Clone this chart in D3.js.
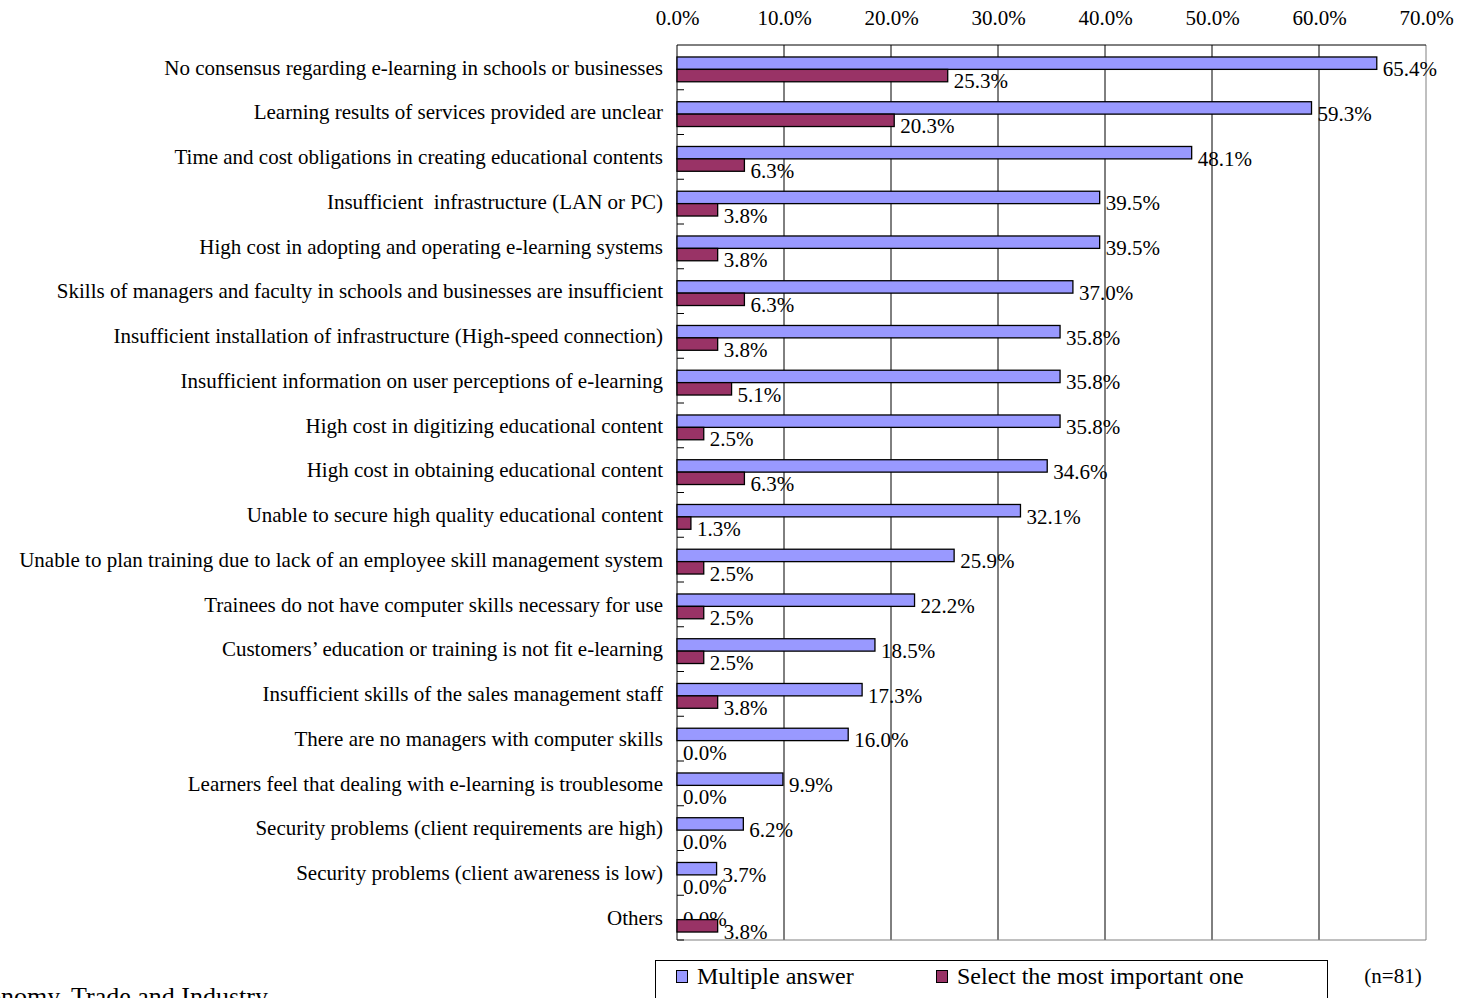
<!DOCTYPE html>
<html><head><meta charset="utf-8">
<script src="https://cdn.jsdelivr.net/npm/d3@7"></script>
<style>body{margin:0;background:#fff;overflow:hidden}text{font-family:"Liberation Serif","Times New Roman",serif}</style>
</head><body>
<svg id="c" width="1463" height="998"></svg>
<script>
const categories = [
"No consensus regarding e-learning in schools or businesses",
"Learning results of services provided are unclear",
"Time and cost obligations in creating educational contents",
"Insufficient  infrastructure (LAN or PC)",
"High cost in adopting and operating e-learning systems",
"Skills of managers and faculty in schools and businesses are insufficient",
"Insufficient installation of infrastructure (High-speed connection)",
"Insufficient information on user perceptions of e-learning",
"High cost in digitizing educational content",
"High cost in obtaining educational content",
"Unable to secure high quality educational content",
"Unable to plan training due to lack of an employee skill management system",
"Trainees do not have computer skills necessary for use",
"Customers\u2019 education or training is not fit e-learning",
"Insufficient skills of the sales management staff",
"There are no managers with computer skills",
"Learners feel that dealing with e-learning is troublesome",
"Security problems (client requirements are high)",
"Security problems (client awareness is low)",
"Others"];
const multipleAnswer = [65.4,59.3,48.1,39.5,39.5,37.0,35.8,35.8,35.8,34.6,32.1,25.9,22.2,18.5,17.3,16.0,9.9,6.2,3.7,0.0];
const mostImportant = [25.3,20.3,6.3,3.8,3.8,6.3,3.8,5.1,2.5,6.3,1.3,2.5,2.5,2.5,3.8,0.0,0.0,0.0,0.0,3.8];
const seriesNames = ["Multiple answer","Select the most important one"];
const tickValues = [0,10,20,30,40,50,60,70];
const note = "(n=81)";
const source = "Source: Ministry of Economy, Trade and Industry";

const colors = ["#9999FF","#993366"];
const svg = d3.select("#c");
const L=677, R=1426, T=45, B=940;
const x = d3.scaleLinear().domain([0,70]).range([L,R]);
const y = d3.scaleBand().domain(d3.range(categories.length)).range([T,B]);
const bh = 12.4;
const fs = 21;

// gridlines
svg.append("g").selectAll("line").data(tickValues.slice(1)).join("line")
  .attr("x1",d=>x(d)).attr("x2",d=>x(d)).attr("y1",T).attr("y2",B)
  .attr("stroke",d=>d===70?"#808080":"#000").attr("stroke-width",1);
svg.append("line").attr("x1",L).attr("x2",R).attr("y1",T).attr("y2",T).attr("stroke","#000");
svg.append("line").attr("x1",L).attr("x2",R).attr("y1",B).attr("y2",B).attr("stroke","#808080");

// top axis labels
const ax = d3.axisTop(x).tickValues(tickValues).tickFormat(d=>d.toFixed(1)+"%").tickSize(0).tickPadding(0);
const axg = svg.append("g").attr("transform",`translate(0,25)`).call(ax);
axg.select(".domain").remove();
axg.selectAll("text").attr("font-size",fs).attr("fill","#000").attr("font-family","Liberation Serif");

// left axis with inward ticks at boundaries
svg.append("line").attr("x1",L).attr("x2",L).attr("y1",T).attr("y2",B).attr("stroke","#000");
svg.append("g").selectAll("line").data(d3.range(1,categories.length+1)).join("line")
  .attr("x1",L).attr("x2",L+7).attr("y1",i=>y(i-1)+y.bandwidth()).attr("y2",i=>y(i-1)+y.bandwidth()).attr("stroke","#000");

// category labels
svg.append("g").selectAll("text").data(categories).join("text")
  .attr("x",L-14).attr("y",(d,i)=>y(i)+y.bandwidth()/2).attr("dy","0.35em")
  .attr("text-anchor","end").attr("font-size",fs).attr("xml:space","preserve").style("white-space","pre").text(d=>d);

const series=[multipleAnswer,mostImportant];
series.forEach((vals,s)=>{
  const off = y.bandwidth()/2 - bh + s*bh + 2;
  const g = svg.append("g");
  g.selectAll("rect").data(vals).join("rect")
    .attr("x",L).attr("y",(d,i)=>y(i)+off)
    .attr("width",d=>x(d)-L).attr("height",bh)
    .attr("fill",colors[s]).attr("stroke",d=>d>0?"#000":"none").attr("stroke-width",1.3);
  g.selectAll("text").data(vals).join("text")
    .attr("x",d=>x(d)+6).attr("y",(d,i)=>y(i)+off+bh/2+5.5).attr("dy","0.35em")
    .attr("font-size",fs).text(d=>d.toFixed(1)+"%");
});

// legend
const lg = svg.append("g");
lg.append("rect").attr("x",655.5).attr("y",960.5).attr("width",672).attr("height",50).attr("fill","none").attr("stroke","#000");
const lx=[676,936];
seriesNames.forEach((n,i)=>{
  lg.append("rect").attr("x",lx[i]+0.5).attr("y",970.5).attr("width",11).attr("height",12).attr("fill",colors[i]).attr("stroke","#000");
  lg.append("text").attr("x",lx[i]+21).attr("y",976).attr("dy","0.35em").attr("font-size",24).text(n);
});
svg.append("text").attr("x",1393).attr("y",976).attr("dy","0.35em").attr("text-anchor","middle").attr("font-size",21).text(note);
svg.append("text").attr("x",268).attr("y",1005).attr("text-anchor","end").attr("font-size",26).text(source);
</script>
</body></html>
